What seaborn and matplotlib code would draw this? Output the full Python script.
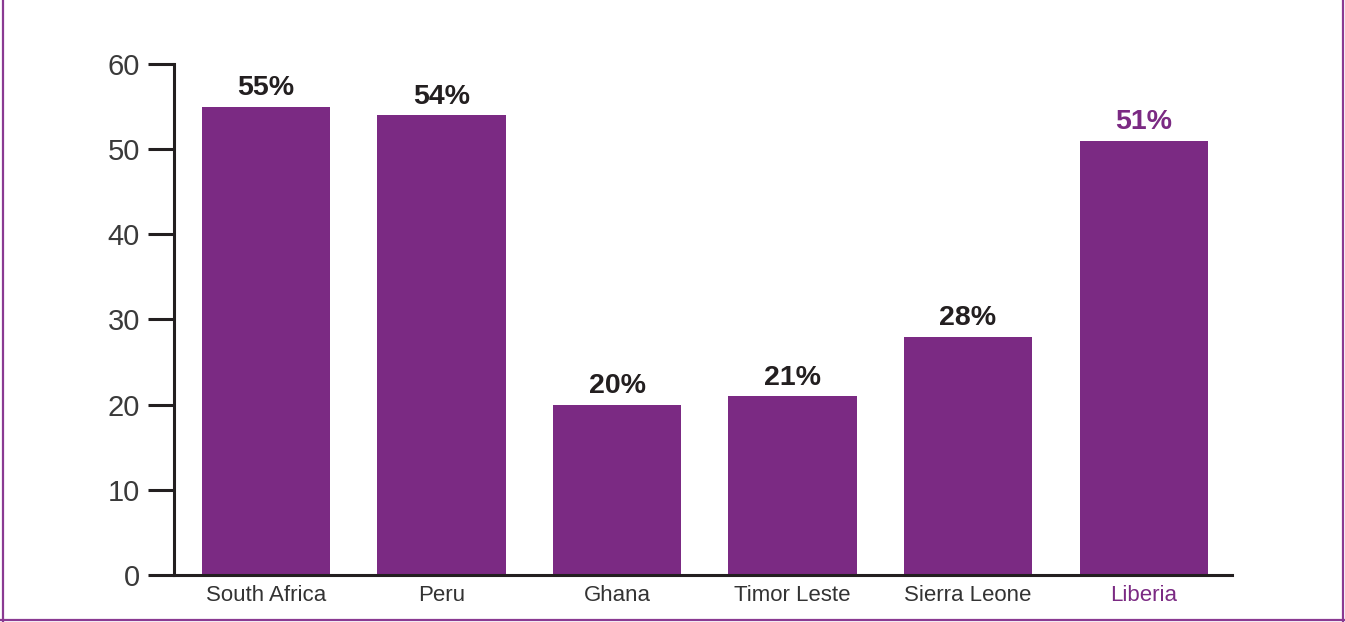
import pandas as pd
import seaborn as sns
import matplotlib.pyplot as plt
import matplotlib.lines as mlines

# Data
countries = ["South Africa", "Peru", "Ghana", "Timor Leste", "Sierra Leone", "Liberia"]
values = [55, 54, 20, 21, 28, 51]
highlight = "Liberia"

PURPLE = "#7B2A83"
DARK = "#231F20"

df = pd.DataFrame({"country": countries, "value": values})

sns.set_style("white")
plt.rcParams["font.family"] = ["Liberation Sans", "DejaVu Sans"]

fig = plt.figure(figsize=(13.45, 6.22), dpi=100)
ax = fig.add_axes([0.1294, 0.0756, 0.7866, 0.8215])

sns.barplot(data=df, x="country", y="value", color=PURPLE, saturation=1,
            width=0.73, linewidth=0, ax=ax)

ax.set_xlim(-0.524, 5.504)
ax.set_ylim(0, 60)
ax.set_yticks(range(0, 61, 10))
ax.set_xlabel("")
ax.set_ylabel("")

for s in ["top", "right"]:
    ax.spines[s].set_visible(False)
for s in ["left", "bottom"]:
    ax.spines[s].set_color(DARK)
    ax.spines[s].set_linewidth(2.2)

ax.tick_params(axis="y", length=18.5, width=2.2, color=DARK, labelsize=21,
               labelcolor="#3a3a3a", pad=6, direction="out", left=True)
ax.tick_params(axis="x", length=0, labelsize=16, labelcolor="#333333", pad=7)

for lbl in ax.get_xticklabels():
    if lbl.get_text() == highlight:
        lbl.set_color(PURPLE)

for i, (c, v) in enumerate(zip(countries, values)):
    ax.annotate(f"{v}%", (i, v), xytext=(0, 4), textcoords="offset points",
                ha="center", va="bottom", fontsize=20.5, fontweight="bold",
                color=PURPLE if c == highlight else DARK)

# purple frame (left, right, bottom)
for xs, ys in [([0.0025, 0.0025], [0, 1]), ([0.9985, 0.9985], [0, 1]),
               ([0, 1], [0.0035, 0.0035])]:
    fig.add_artist(mlines.Line2D(xs, ys, transform=fig.transFigure,
                                 color="#8A3A92", linewidth=1.6))

fig.savefig("out.png", dpi=100, facecolor="white")
